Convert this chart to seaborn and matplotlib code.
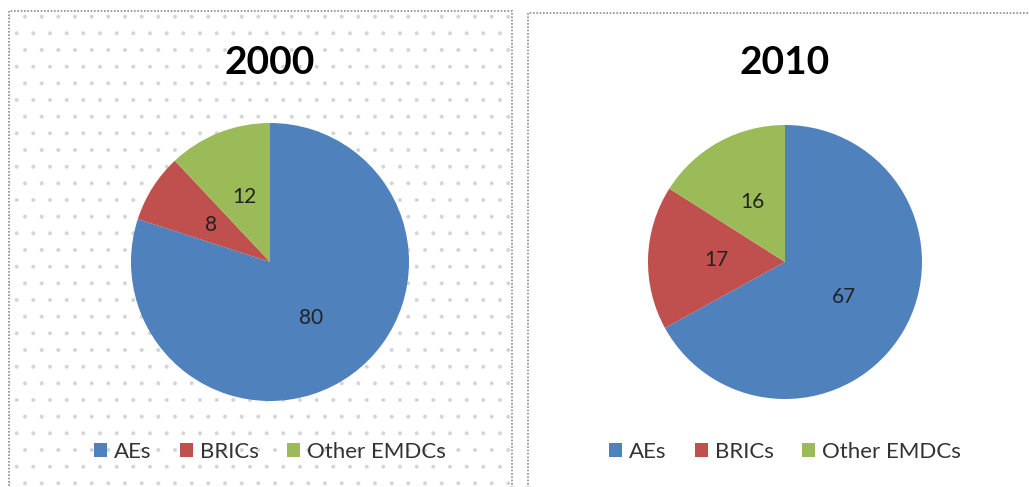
#!/usr/bin/env python3
import matplotlib

matplotlib.use("Agg")
import matplotlib.pyplot as plt
import seaborn as sns
from matplotlib.patches import Rectangle

categories = ["AEs", "BRICs", "Other EMDCs"]
shares_2000 = [80, 8, 12]
shares_2010 = [67, 17, 16]
years = ["2000", "2010"]

W, H = 1029, 487

sns.set_theme(style="white")
plt.rcParams["font.family"] = ["Lato", "DejaVu Sans"]
plt.rcParams["hatch.linewidth"] = 0.4
colors = sns.color_palette(["#4F81BD", "#C0504D", "#9BBB59"])


def px_box(x0, y0, x1, y1):
    """pixel box (top-left origin) -> figure fraction [l, b, w, h]"""
    return [x0 / W, 1 - y1 / H, (x1 - x0) / W, (y1 - y0) / H]


fig = plt.figure(figsize=(W / 100, H / 100), dpi=100)
fig.patch.set_facecolor("white")

# panel frames: left has the dotted fill, right is plain
dots = Rectangle((9 / W, -0.05), (512 - 9) / W, 1.05 - 11 / H,
                 transform=fig.transFigure, facecolor="white",
                 edgecolor="#d4d4d4", hatch=".", lw=0, zorder=-2)
left = Rectangle((9 / W, -0.05), (512 - 9) / W, 1.05 - 11 / H,
                 transform=fig.transFigure, facecolor="none",
                 edgecolor="#8c8c8c", lw=1.2, ls=(0, (1, 1)), zorder=-1)
right = Rectangle((528 / W, -0.05), (W + 5 - 528) / W, 1.05 - 13 / H,
                  transform=fig.transFigure, facecolor="white",
                  edgecolor="#8c8c8c", lw=1.2, ls=(0, (1, 1)), zorder=-1)
fig.patches.extend([dots, left, right])

panels = [
    (shares_2000, years[0], 270, 262, 139),
    (shares_2010, years[1], 785, 262, 137),
]

for values, year, cx, cy, r in panels:
    ax = fig.add_axes(px_box(cx - r, cy - r, cx + r, cy + r))
    ax.set_facecolor("none")
    wedges, _, autotexts = ax.pie(
        values,
        colors=colors,
        startangle=90,
        counterclock=False,
        autopct=lambda p: f"{p:.0f}",
        pctdistance=0.5,
        wedgeprops=dict(linewidth=0),
        textprops=dict(fontsize=15, color="#222222"),
    )
    ax.set_xlim(-1, 1)
    ax.set_ylim(-1, 1)
    ax.set_aspect("equal")
    ax.axis("off")

    fig.text(cx / W, 1 - 63 / H, year, ha="center", va="center",
             fontsize=28, fontweight="bold", color="black")

    fig.legend(
        wedges, categories,
        loc="center", bbox_to_anchor=(cx / W, 1 - 452 / H),
        ncol=3, frameon=False, fontsize=16,
        handlelength=0.6, handleheight=0.6, handletextpad=0.32,
        columnspacing=1.25, labelcolor="#333333",
    )

fig.savefig("out.png", dpi=100)
